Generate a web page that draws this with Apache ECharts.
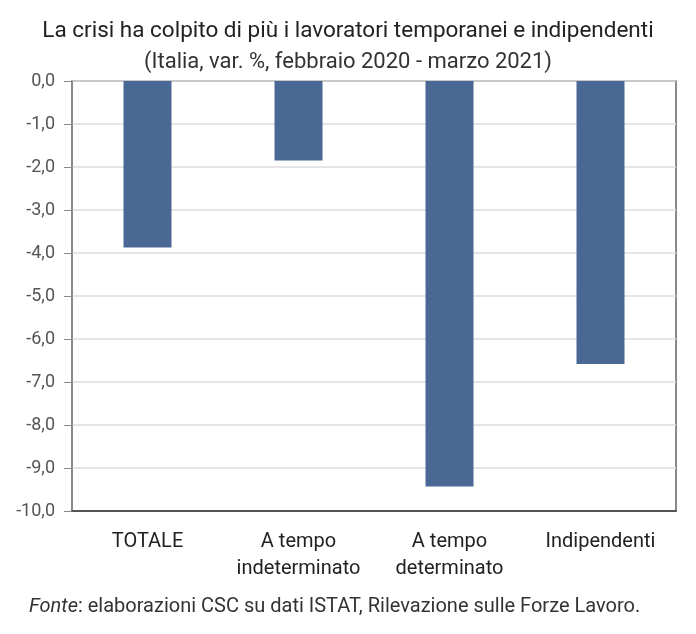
<!DOCTYPE html>
<html>
<head>
<meta charset="utf-8">
<script src="https://cdn.jsdelivr.net/npm/echarts@6/dist/echarts.min.js"></script>
<style>
html,body{margin:0;padding:0;background:#fff;}
#chart{width:696px;height:634px;}
</style>
</head>
<body>
<div id="chart"></div>
<script>
const categories = ['TOTALE', 'A tempo\nindeterminato', 'A tempo\ndeterminato', 'Indipendenti'];
const values = [-3.87, -1.85, -9.43, -6.58];
const yMin = -10;
const yMax = 0;
const yInterval = 1;

const chart = echarts.init(document.getElementById('chart'), null, {renderer: 'canvas'});
const font = 'Roboto, "Noto Sans", sans-serif';
chart.setOption({
  animation: false,
  backgroundColor: '#ffffff',
  title: [
    {
      text: 'La crisi ha colpito di più i lavoratori temporanei e indipendenti',
      left: 'center', top: 15,
      textStyle: {fontFamily: font, fontSize: 22.5, fontWeight: 'normal', color: '#222'}
    },
    {
      text: '(Italia, var. %, febbraio 2020 - marzo 2021)',
      left: 'center', top: 46,
      textStyle: {fontFamily: font, fontSize: 22, fontWeight: 'normal', color: '#333'}
    },
    {
      text: '{i|Fonte}: elaborazioni CSC su dati ISTAT, Rilevazione sulle Forze Lavoro.',
      left: 24, top: 592,
      textStyle: {
        fontFamily: font, fontSize: 20, fontWeight: 'normal', color: '#333',
        rich: {i: {fontFamily: font, fontSize: 20, fontStyle: 'italic', color: '#333'}}
      }
    }
  ],
  grid: {
    left: 72, right: 20, top: 81, bottom: 123,
    show: true, borderColor: '#666', borderWidth: 1.5, backgroundColor: 'transparent'
  },
  xAxis: {
    type: 'category',
    data: categories,
    position: 'bottom',
    axisLine: {onZero: false, lineStyle: {color: '#555', width: 2}},
    axisTick: {show: false},
    axisLabel: {
      fontFamily: font, fontSize: 20, color: '#222', margin: 17, lineHeight: 27,
      interval: 0
    }
  },
  yAxis: {
    type: 'value',
    min: yMin, max: yMax, interval: yInterval,
    axisLine: {show: true, lineStyle: {color: '#888', width: 1.5}},
    axisTick: {show: true, length: 8, lineStyle: {color: '#888'}},
    splitLine: {lineStyle: {color: '#dcdcdc', width: 1.5}},
    axisLabel: {
      fontFamily: font, fontSize: 18, color: '#555', margin: 17,
      formatter: v => v.toFixed(1).replace('.', ',')
    }
  },
  series: [{
    type: 'bar',
    data: values,
    barWidth: 48,
    itemStyle: {color: '#4a6894'}
  }]
});
</script>
</body>
</html>
